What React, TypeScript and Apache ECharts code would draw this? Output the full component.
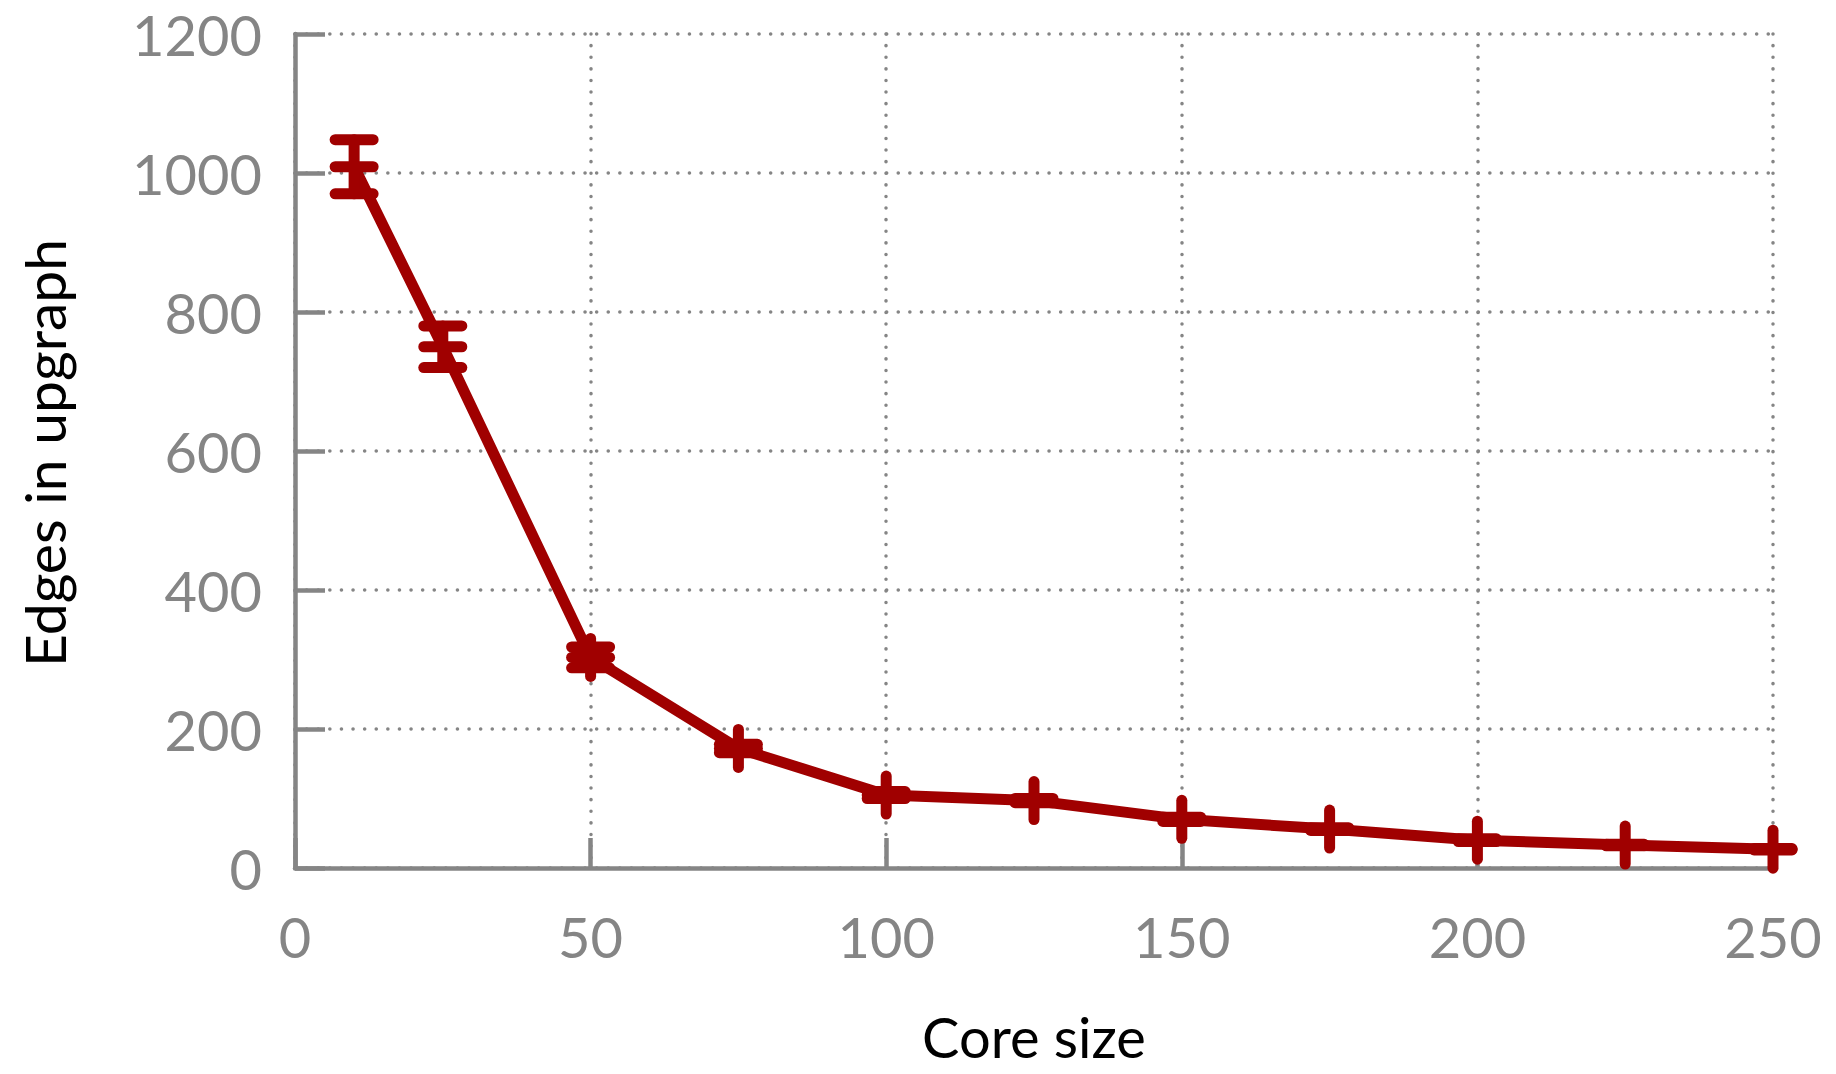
import React, { useEffect, useRef } from "react";
import * as echarts from "echarts";

// Core size on the x axis, mean edge count with its spread on the y axis
const coreSizes = [10, 25, 50, 75, 100, 125, 150, 175, 200, 225, 250];
const edgeMeans = [1009, 750, 303, 172, 105, 97, 70, 56, 40, 33, 27];
const edgeErrors = [39, 30, 15, 6, 5, 3, 3, 2, 2, 1, 1];

const xTicks = { min: 0, max: 250, interval: 50 };
const yTicks = { min: 0, max: 1200, interval: 200 };

const xAxisTitle = "Core size";
const yAxisTitle = "Edges in upgraph";

const RED = "#a00000";
const GREY = "#858585";
const FONT = "Lato, 'DejaVu Sans', sans-serif";

export default function App() {
  const ref = useRef<HTMLDivElement>(null);

  useEffect(() => {
    if (!ref.current) return;
    const chart = echarts.init(ref.current, null, { renderer: "svg" });

    const lineData = coreSizes.map((x, i) => [x, edgeMeans[i]]);
    const errData = coreSizes.map((x, i) => [
      x,
      edgeMeans[i],
      edgeMeans[i] - edgeErrors[i],
      edgeMeans[i] + edgeErrors[i],
    ]);

    const strokeStyle = {
      stroke: RED,
      lineWidth: 11,
      lineCap: "round",
      fill: null,
    };

    const renderErr = (params: any, api: any) => {
      const x = api.value(0);
      const c = api.coord([x, api.value(1)]);
      const lo = api.coord([x, api.value(2)]);
      const hi = api.coord([x, api.value(3)]);
      const hw = 19; // half width of caps and of the "+" marker
      const top = Math.min(hi[1], c[1] - hw);
      const bottom = Math.max(lo[1], c[1] + hw);
      const seg = (x1: number, y1: number, x2: number, y2: number) => ({
        type: "line",
        shape: { x1, y1, x2, y2 },
        style: strokeStyle,
      });
      return {
        type: "group",
        children: [
          seg(c[0], top, c[0], bottom),
          seg(c[0] - hw, hi[1], c[0] + hw, hi[1]),
          seg(c[0] - hw, lo[1], c[0] + hw, lo[1]),
          seg(c[0] - hw, c[1], c[0] + hw, c[1]),
        ],
      };
    };

    const splitLine = {
      show: true,
      lineStyle: {
        color: GREY,
        width: 3.5,
        type: [0.1, 11.5],
        cap: "round",
      },
    };

    chart.setOption({
      animation: false,
      backgroundColor: "#ffffff",
      grid: { left: 295, right: 63, top: 34, bottom: 206, containLabel: false },
      xAxis: {
        type: "value",
        ...xTicks,
        axisLine: { show: true, onZero: false, lineStyle: { color: GREY, width: 4.5 } },
        axisTick: { show: true, inside: true, length: 30, lineStyle: { color: GREY, width: 4.5 } },
        axisLabel: {
          color: GREY,
          fontFamily: FONT,
          fontSize: 56,
          lineHeight: 56,
          margin: 40,
          showMaxLabel: true,
          showMinLabel: true,
          formatter: (v: number) => String(v),
        },
        splitLine,
      },
      yAxis: {
        type: "value",
        ...yTicks,
        axisLine: { show: true, lineStyle: { color: GREY, width: 4.5 } },
        axisTick: { show: true, inside: true, length: 30, lineStyle: { color: GREY, width: 4.5 } },
        axisLabel: {
          color: GREY,
          fontFamily: FONT,
          fontSize: 56,
          margin: 33,
          showMaxLabel: true,
          showMinLabel: true,
          formatter: (v: number) => String(v),
        },
        splitLine,
      },
      graphic: [
        {
          type: "text",
          x: 1034,
          y: 1064,
          style: {
            text: xAxisTitle,
            fontFamily: FONT,
            fontSize: 56,
            fill: "#000000",
            align: "center",
            verticalAlign: "bottom",
          },
        },
        {
          type: "text",
          x: 44,
          y: 453,
          rotation: Math.PI / 2,
          style: {
            text: yAxisTitle,
            fontFamily: FONT,
            fontSize: 57,
            fill: "#000000",
            align: "center",
            verticalAlign: "middle",
          },
        },
      ],
      series: [
        {
          type: "line",
          data: lineData,
          symbol: "none",
          lineStyle: { color: RED, width: 11, cap: "round", join: "round" },
          z: 3,
        },
        {
          type: "custom",
          data: errData,
          renderItem: renderErr,
          encode: { x: 0, y: [1, 2, 3] },
          z: 4,
        },
      ],
    });

    return () => chart.dispose();
  }, []);

  return (
    <div
      ref={ref}
      style={{ position: "fixed", left: 0, top: 0, width: 1836, height: 1074 }}
    />
  );
}
